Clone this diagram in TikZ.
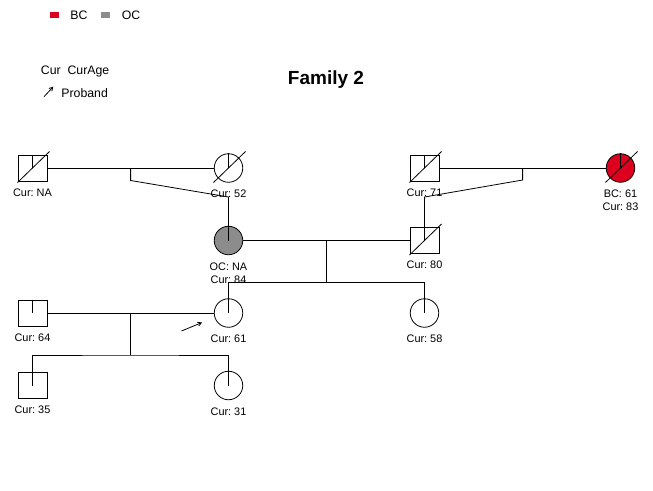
\documentclass[tikz,border=0pt]{standalone}
\usepackage{fontspec}
\setmainfont{Liberation Sans}
\usetikzlibrary{positioning, arrows.meta, calc}
\definecolor{bcred}{RGB}{220,0,30}
\definecolor{ocgray}{RGB}{140,140,140}
\frenchspacing

\begin{document}
\begin{tikzpicture}[x=1pt, y=-1pt, node distance=72.5pt and 196pt, on grid,
    line width=0.8pt, >={Straight Barb[length=3.5pt,width=4pt]},
    male/.style={draw, rectangle, minimum width=29pt, minimum height=26pt, inner sep=0pt},
    female/.style={draw, circle, minimum size=28.5pt, inner sep=0pt},
    tag/.style={inner sep=0pt, align=center, label distance=7pt,
      font=\fontsize{10.9}{13}\selectfont},
    legtxt/.style={inner sep=0pt, anchor=west, font=\fontsize{12.3}{14}\selectfont},
    key/.style={inner sep=0pt, minimum width=9pt, minimum height=6.5pt}]
  \useasboundingbox (0,0) rectangle (653,490);

  % key and title
  \node[key, fill=bcred] (kbc) at (54.5,14.8) {};
  \node[legtxt] (kbctxt) at (70,15) {BC};
  \node[key, fill=ocgray] (koc) at (105.8,14.8) {};
  \node[legtxt] (koctxt) at (121.5,15) {OC};
  \node[legtxt] (kcur) at (40.5,71) {Cur\ \ CurAge};
  \node[legtxt] (kprob) at (61,93.3) {Proband};
  \coordinate (kp0) at (44,96.7);
  \coordinate (kp1) at (53.3,86.7);
  \draw[->] (kp0) -- (kp1);
  \node[inner sep=0pt, font=\bfseries\fontsize{19}{22}\selectfont] (title) at (326,79.5) {Family 2};

  % people
  \node[male, label={[tag]below:Cur: NA}] (a1) at (32.5,168) {};
  \node[female, right=of a1, label={[tag]below:Cur: 52}] (a2) {};
  \node[male, right=of a2, label={[tag]below:Cur: 71}] (a3) {};
  \node[female, fill=bcred, right=of a3, label={[tag]below:BC: 61\\Cur: 83}] (a4) {};
  \node[female, fill=ocgray, below=of a2, label={[tag]below:OC: NA\\Cur: 84}] (b1) {};
  \node[male, below=of a3, label={[tag]below:Cur: 80}] (b2) {};
  \node[male, below left=of b1, label={[tag]below:Cur: 64}] (c1) {};
  \node[female, below=of b1, label={[tag]below:Cur: 61}] (c2) {};
  \node[female, below=of b2, label={[tag]below:Cur: 58}] (c3) {};
  \node[male, below=of c1, label={[tag]below:Cur: 35}] (d1) {};
  \node[female, below=of c2, label={[tag]below:Cur: 31}] (d2) {};

  % split marks and deceased slashes
  \foreach \p in {a1,a2,a3,a4,b1,b2,c1,c2,c3,d1,d2}
    \draw (\p.north) -- (\p.center);
  \foreach \p in {a1,a2,a3,a4,b2}
    \draw ($(\p.center)+(-15,14.5)$) -- ++(32,-31);

  % marriages and descent
  \draw (a1) -- (a2);
  \draw ($(a1.east)!.5!(a2.west)$) -- ++(0,12.5) -- ($(b1.center)+(0,-43.5)$) -- (b1.north);
  \draw (a3) -- (a4);
  \draw ($(a3.east)!.5!(a4.west)$) -- ++(0,12) -- ($(b2.center)+(0,-43.5)$) -- (b2.north);
  \draw (b1) -- (b2);
  \draw ($(b1.east)!.5!(b2.west)$) -- ++(0,42) coordinate (s2);
  \draw (c2.north) |- (s2) -| (c3.north);
  \draw (c1) -- (c2);
  \draw ($(c1.east)!.5!(c2.west)$) -- ++(0,42) coordinate (s3);
  \draw (d1.north) |- (s3) -| (d2.north);

  % proband
  \coordinate (pb0) at ($(c2.center)+(-47,18)$);
  \coordinate (pb1) at ($(c2.center)+(-26.5,9.5)$);
  \draw[->] (pb0) -- (pb1);
\end{tikzpicture}
\end{document}
